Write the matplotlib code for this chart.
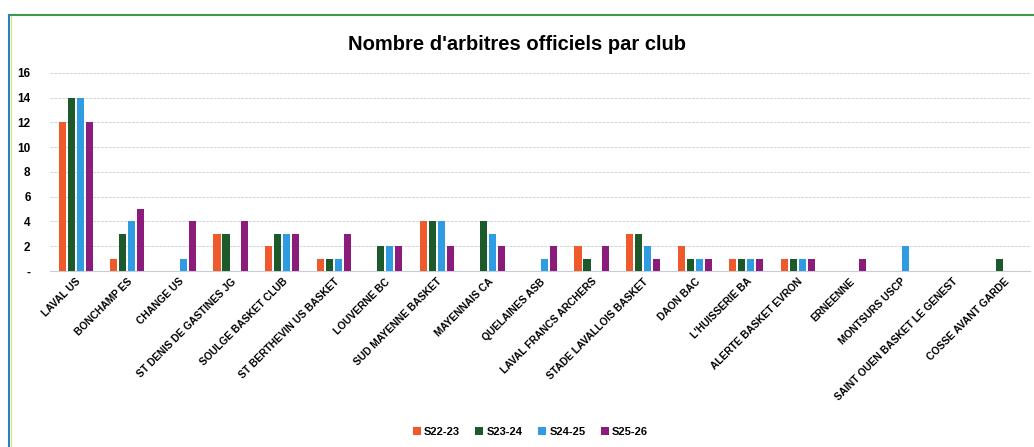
import matplotlib
matplotlib.use("Agg")
import matplotlib.pyplot as plt
import numpy as np
from matplotlib.lines import Line2D

clubs = ["LAVAL US", "BONCHAMP ES", "CHANGE US", "ST DENIS DE GASTINES JG",
         "SOULGE BASKET CLUB", "ST BERTHEVIN US BASKET", "LOUVERNE BC",
         "SUD MAYENNE BASKET", "MAYENNAIS CA", "QUELAINES ASB",
         "LAVAL FRANCS ARCHERS", "STADE LAVALLOIS BASKET", "DAON BAC",
         "L'HUISSERIE BA", "ALERTE BASKET EVRON", "ERNEENNE", "MONTSURS USCP",
         "SAINT OUEN BASKET LE GENEST", "COSSE AVANT GARDE"]
s22_23 = [12, 1, 0, 3, 2, 1, 0, 4, 0, 0, 2, 3, 2, 1, 1, 0, 0, 0, 0]
s23_24 = [14, 3, 0, 3, 3, 1, 2, 4, 4, 0, 1, 3, 1, 1, 1, 0, 0, 0, 1]
s24_25 = [14, 4, 1, 0, 3, 1, 2, 4, 3, 1, 0, 2, 1, 1, 1, 0, 2, 0, 0]
s25_26 = [12, 5, 4, 4, 3, 3, 2, 2, 2, 2, 2, 1, 1, 1, 1, 1, 0, 0, 0]
series_names = ["S22-23", "S23-24", "S24-25", "S25-26"]
colors = ["#EE5A2B", "#1D5A2B", "#2F9BE0", "#8C1C7C"]
yticks = [0, 2, 4, 6, 8, 10, 12, 14, 16]
ytick_labels = ["-", "2", "4", "6", "8", "10", "12", "14", "16"]

plt.rcParams['font.family'] = ['Liberation Sans', 'DejaVu Sans']

fig = plt.figure(figsize=(10.34, 4.47), dpi=100)
ax = fig.add_axes([0.0484, 0.394, 0.9476, 0.443])

series = [s22_23, s23_24, s24_25, s25_26]
x = np.arange(len(clubs))
slot = 0.175
bw = 0.138
for i, (vals, name, c) in enumerate(zip(series, series_names, colors)):
    ax.bar(x + (i - 1.5) * slot, vals, width=bw, color=c, label=name,
           linewidth=0, zorder=3)

ax.set_xlim(-0.5, len(clubs) - 0.5)
ax.set_ylim(0, 16)
ax.set_yticks(yticks)
ax.set_yticklabels(ytick_labels, fontsize=8.5, fontweight='bold')
ax.set_xticks(x)
ax.set_xticklabels(clubs, rotation=45, ha='right', rotation_mode='anchor',
                   fontsize=7.4, fontweight='bold')
ax.tick_params(axis='both', length=0, pad=4)
ax.tick_params(axis='y', pad=14)
ax.grid(axis='y', color='#D3D6DC', linewidth=0.7, linestyle=(0, (3, 1)), zorder=0)
for sp in ['top', 'right', 'left']:
    ax.spines[sp].set_visible(False)
ax.spines['bottom'].set_color('#C8CCD4')
ax.spines['bottom'].set_linewidth(0.8)

fig.text(0.5, 0.90, "Nombre d'arbitres officiels par club", ha='center', va='center',
         fontsize=14.5, fontweight='bold')

leg = fig.legend(loc='center', bbox_to_anchor=(0.513, 0.034), ncol=4, frameon=False,
                 fontsize=8, handlelength=0.7, handleheight=0.7, handletextpad=0.3,
                 columnspacing=1.4)
for t in leg.get_texts():
    t.set_fontweight('bold')

# border lines
fig.add_artist(Line2D([9/1034, 1.0], [1 - 15/447, 1 - 15/447], color='#3C9A48', linewidth=1.5))
fig.add_artist(Line2D([9/1034, 9/1034], [0, 1 - 15/447], color='#2C7FBF', linewidth=1.5))
fig.add_artist(Line2D([11/1034, 11/1034], [0, 1 - 16/447], color='#D8E86A', linewidth=0.8))

fig.savefig("out.png", dpi=100)
